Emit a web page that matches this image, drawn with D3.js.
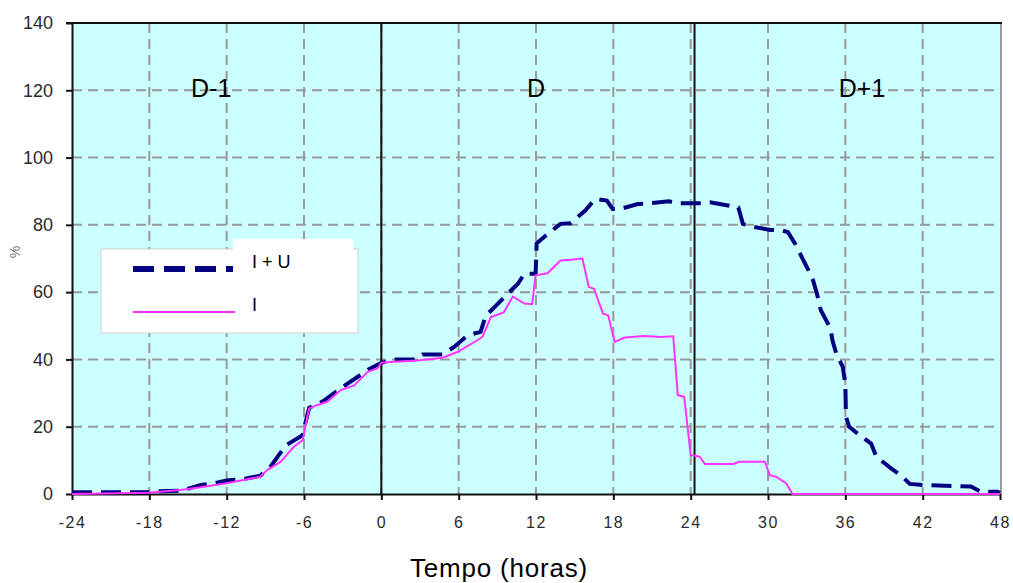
<!DOCTYPE html>
<html>
<head>
<meta charset="utf-8">
<script src="https://cdn.jsdelivr.net/npm/d3@7"></script>
<style>
  html, body { margin: 0; padding: 0; background: #ffffff; }
  svg { display: block; font-family: "Liberation Sans", Arial, sans-serif; }
</style>
</head>
<body>
<svg id="chart" width="1013" height="583"></svg>
<script>
// ---- data ----
const xTicks = [-24, -18, -12, -6, 0, 6, 12, 18, 24, 30, 36, 42, 48];
const yTicks = [0, 20, 40, 60, 80, 100, 120, 140];
const dayLabels = ["D-1", "D", "D+1"];
const dayCenters = [-13.2, 12.0, 37.3];
const dayBounds = [0, 24.3];
const seriesNames = ["I + U", "I"];

const iuHours = [-24, -18, -17.9, -15.5, -14, -13, -12, -10.5, -9.4, -8.6, -7.4, -6.1, -5.9, -5.6, -4.5, -3, -1, 0,
  1, 2.6, 3.2, 4.75, 5.65, 6.7, 7.7, 8.1, 8.9, 9.8, 10.6, 11.1, 11.97, 12.05, 12.6, 13.9, 14.7, 15.8, 16.6, 17.5, 17.95,
  18.5, 19.9, 20.8, 22.3, 23, 24.6, 25.5, 27, 27.7, 28.05, 28.7, 30.2, 31.15, 31.55, 32.1, 33.15, 33.5, 33.8, 34.1,
  34.85, 35, 35.3, 35.8, 36.0, 36.05, 36.3, 37.1, 38, 38.4, 39.55, 40.3, 41, 42, 45.75, 46.5, 47.8, 48];
const iuValues = [0.5, 0.5, 0.8, 1.0, 2.7, 3.2, 4, 4.6, 5.4, 8.1, 14.5, 17.5, 21, 25.6, 27.6, 31.8, 37, 39,
  40, 40, 41.5, 41.5, 43.7, 47.2, 48.2, 53, 56, 59.5, 62.5, 65.5, 65.5, 74.5, 76.3, 80.3, 80.5, 84.2, 87.7, 87.2, 84.7,
  84.7, 86.2, 86.4, 87, 86.4, 86.4, 86.7, 85.7, 85.2, 80.3, 79.5, 78.5, 78.3, 77.8, 74.4, 66.4, 63.5, 59.5, 54.6,
  49.2, 45.7, 41.7, 37.8, 32.8, 22.9, 20, 17.5, 15, 11.1, 7.6, 5.6, 3, 2.7, 2.2, 0.7, 0.7, 0.3];

const iHours = [-24, -18.1, -15.6, -14, -12, -10.4, -9.4, -8.85, -7.8, -6.8, -6.1, -5.9, -5.6, -5, -4.2, -3.15, -2.1,
  -1.06, -0.3, 0, 1, 2.8, 4.75, 5.9, 7.45, 7.85, 8.5, 9.5, 10.2, 11.1, 11.7, 11.97, 12.9, 13.9, 14.7, 15.6, 16.1, 16.5,
  17.2, 17.6, 18.1, 18.9, 20.4, 21.7, 22.65, 23, 23.5, 24, 24.7, 25.1, 27.3, 27.8, 29.75, 30.15, 30.65, 31.4, 31.9, 48];
const iValues = [0, 0.4, 1.2, 2, 3.2, 4.4, 5.1, 7.1, 9.6, 14, 16, 20, 25.4, 26.4, 27.4, 30.9, 32.3,
  36.3, 37.3, 39, 39.3, 39.7, 40.5, 42.2, 45.7, 46.7, 52.6, 54, 58.7, 56.6, 56.4, 65, 65.6, 69.4, 69.6, 70, 61.5, 61,
  53.6, 53.1, 45.2, 46.5, 47, 46.7, 46.9, 29.4, 28.9, 11.6, 11.1, 8.9, 8.9, 9.6, 9.6, 5.6, 5.1, 3.2, 0, 0];

// ---- chart ----
const svg = d3.select("#chart");
const x = d3.scaleLinear().domain([-24, 48]).range([72, 1000]);
const y = d3.scaleLinear().domain([0, 140]).range([494, 23]);

// background
svg.append("rect")
  .attr("x", x(-24)).attr("y", y(140))
  .attr("width", x(48) - x(-24)).attr("height", y(0) - y(140))
  .attr("fill", "#ccffff");

// grid
const grid = svg.append("g");
grid.selectAll("line.h").data(yTicks.filter(d => d > 0 && d < 140)).join("line")
  .attr("x1", x(-24)).attr("x2", x(48))
  .attr("y1", d => y(d)).attr("y2", d => y(d))
  .attr("stroke", "#999999").attr("stroke-width", 2).attr("stroke-dasharray", "10,6");
grid.selectAll("line.v").data(xTicks.filter(d => d > -24 && d < 48)).join("line")
  .attr("x1", d => x(d)).attr("x2", d => x(d))
  .attr("y1", y(140)).attr("y2", y(0))
  .attr("stroke", "#999999").attr("stroke-width", 2).attr("stroke-dasharray", "10,6");
// right border
svg.append("line")
  .attr("x1", x(48) + 1).attr("x2", x(48) + 1).attr("y1", y(140)).attr("y2", y(0))
  .attr("stroke", "#999999").attr("stroke-width", 2);

// day separators
svg.selectAll("line.day").data(dayBounds).join("line")
  .attr("x1", d => x(d)).attr("x2", d => x(d))
  .attr("y1", y(140)).attr("y2", y(0))
  .attr("stroke", "#111").attr("stroke-width", 2);

// top border
svg.append("line")
  .attr("x1", x(-24) - 6).attr("x2", x(48) + 2).attr("y1", y(140)).attr("y2", y(140))
  .attr("stroke", "#111").attr("stroke-width", 2);

// axes
const fmt = d => String(d);
const yAxis = svg.append("g").attr("transform", `translate(${x(-24)},0)`)
  .call(d3.axisLeft(y).tickValues(yTicks).tickFormat(fmt).tickSize(6).tickSizeOuter(0).tickPadding(13));
const xAxis = svg.append("g").attr("transform", `translate(0,${y(0)})`)
  .call(d3.axisBottom(x).tickValues(xTicks).tickFormat(fmt).tickSize(6).tickSizeOuter(0).tickPadding(17));
[yAxis, xAxis].forEach(a => {
  a.select(".domain").attr("stroke", "#111").attr("stroke-width", 2);
  a.selectAll(".tick line").attr("stroke", "#111").attr("stroke-width", 2);
  a.selectAll(".tick text").attr("fill", "#2a2a2a").attr("font-family", "'Liberation Sans', Arial, sans-serif");
});
yAxis.selectAll(".tick text").attr("font-size", 18);
xAxis.selectAll(".tick text").attr("font-size", 16).attr("letter-spacing", 1.5);

// lines
const line = d3.line().x(d => x(d[0])).y(d => y(d[1]));
const iuData = iuHours.map((h, k) => [h, iuValues[k]]);
const iData = iHours.map((h, k) => [h, iValues[k]]);

svg.append("path").datum(iuData)
  .attr("d", line).attr("fill", "none")
  .attr("stroke", "#000080").attr("stroke-width", 4)
  .attr("stroke-dasharray", "20,9");
svg.append("path").datum(iData)
  .attr("d", line).attr("fill", "none")
  .attr("stroke", "#ff33ff").attr("stroke-width", 2);

// day labels
svg.selectAll("text.day").data(dayLabels).join("text")
  .attr("x", (d, k) => x(dayCenters[k])).attr("y", 97)
  .attr("text-anchor", "middle").attr("font-size", 25).attr("fill", "#000")
  .text(d => d);

// legend
const lg = svg.append("g");
lg.append("rect").attr("x", 101).attr("y", 249).attr("width", 257).attr("height", 84)
  .attr("fill", "#fff").attr("stroke", "#d0d0d0").attr("stroke-width", 1);
lg.append("line").attr("x1", 133).attr("x2", 240).attr("y1", 269).attr("y2", 269)
  .attr("stroke", "#000080").attr("stroke-width", 6).attr("stroke-dasharray", "21,10");
lg.append("rect").attr("x", 233).attr("y", 239).attr("width", 120).attr("height", 60)
  .attr("fill", "#fff");
lg.append("line").attr("x1", 133).attr("x2", 235).attr("y1", 312).attr("y2", 312)
  .attr("stroke", "#ff33ff").attr("stroke-width", 2);
lg.selectAll("text").data(seriesNames).join("text")
  .attr("x", 252).attr("y", (d, k) => k === 0 ? 268 : 311)
  .attr("font-size", 18).attr("fill", "#000")
  .text(d => d);

// axis titles
svg.append("text").attr("x", 499).attr("y", 577).attr("text-anchor", "middle")
  .attr("font-size", 26).attr("letter-spacing", 0.8).attr("fill", "#000").text("Tempo (horas)");
svg.append("text").attr("transform", "translate(20,252) rotate(-90)")
  .attr("text-anchor", "middle").attr("font-size", 14).attr("fill", "#777").text("%");
</script>
</body>
</html>
